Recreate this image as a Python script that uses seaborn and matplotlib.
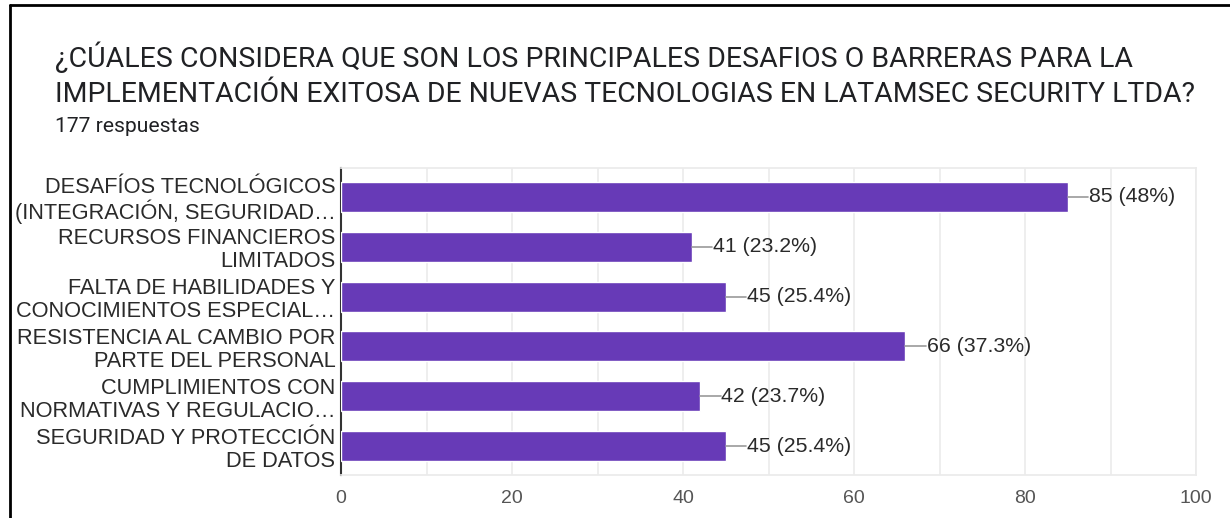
import matplotlib
matplotlib.use("Agg")
import matplotlib.pyplot as plt
import seaborn as sns
import pandas as pd
from matplotlib.lines import Line2D
from matplotlib.ticker import MultipleLocator

categories = [
    "DESAFÍOS TECNOLÓGICOS\n(INTEGRACIÓN, SEGURIDAD…",
    "RECURSOS FINANCIEROS\nLIMITADOS",
    "FALTA DE HABILIDADES Y\nCONOCIMIENTOS ESPECIAL…",
    "RESISTENCIA AL CAMBIO POR\nPARTE DEL PERSONAL",
    "CUMPLIMIENTOS CON\nNORMATIVAS Y REGULACIO…",
    "SEGURIDAD Y PROTECCIÓN\nDE DATOS",
]
counts = [85, 41, 45, 66, 42, 45]
percents = ["48%", "23.2%", "25.4%", "37.3%", "23.7%", "25.4%"]
xticks = [0, 20, 40, 60, 80, 100]
title_lines = [
    "¿CÚALES CONSIDERA QUE SON LOS PRINCIPALES DESAFIOS O BARRERAS PARA LA",
    "IMPLEMENTACIÓN EXITOSA DE NUEVAS TECNOLOGIAS EN LATAMSEC SECURITY LTDA?",
]
subtitle = "177 respuestas"

sns.set_theme(style="white")
plt.rcParams["font.family"] = ["Liberation Sans", "DejaVu Sans"]

df = pd.DataFrame({"cat": categories, "n": counts})

fig = plt.figure(figsize=(12.3, 5.18), dpi=100)
W, H = 1230, 518
ax = fig.add_axes([341 / W, 1 - 475 / H, (1196 - 341) / W, (475 - 168) / H])

sns.barplot(data=df, x="n", y="cat", orient="h", color="#673ab7",
            saturation=1, width=0.6, ax=ax, zorder=3)

ax.set_xlim(0, 100)
ax.set_xticks(xticks)
ax.xaxis.set_minor_locator(MultipleLocator(10))
ax.grid(axis="x", which="both", color="#ebebeb", linewidth=1.2, zorder=0)
ax.set_axisbelow(True)
for s in ["top", "right", "bottom"]:
    ax.spines[s].set_color("#ebebeb")
ax.spines["left"].set_color("#333333")
ax.spines["left"].set_linewidth(1.5)
ax.set_xlabel("")
ax.set_ylabel("")
ax.tick_params(axis="x", length=0, labelsize=14, labelcolor="#555555", pad=11)
ax.tick_params(axis="y", length=0, labelsize=15.7, labelcolor="#2a2a2a", pad=4)
for lbl in ax.get_yticklabels():
    lbl.set_linespacing(1.12)

for i, (n, p) in enumerate(zip(counts, percents)):
    ax.plot([n, n + 2.4], [i, i], color="#999999", linewidth=1.2, zorder=4, clip_on=False)
    ax.text(n + 2.5, i, f"{n} ({p})", va="center", ha="left", fontsize=15.3,
            color="#2a2a2a", zorder=5)

fig.text(55 / W, 1 - 67 / H, title_lines[0], fontsize=20.5, color="#202124",
         family=["Roboto", "DejaVu Sans"], va="baseline", ha="left")
fig.text(55 / W, 1 - 102 / H, title_lines[1], fontsize=20.4, color="#202124",
         family=["Roboto", "DejaVu Sans"], va="baseline", ha="left")
fig.text(55 / W, 1 - 132 / H, subtitle, fontsize=15.2, color="#202124",
         family=["Roboto", "DejaVu Sans"], va="baseline", ha="left")

# outer frame (screenshot border)
fig.add_artist(Line2D([10 / W, 10 / W], [0, 1 - 5 / H], color="black", linewidth=2,
                      transform=fig.transFigure))
fig.add_artist(Line2D([10 / W, 1], [1 - 5 / H, 1 - 5 / H], color="black", linewidth=2,
                      transform=fig.transFigure))

fig.savefig("out.png", dpi=100, facecolor="white")
